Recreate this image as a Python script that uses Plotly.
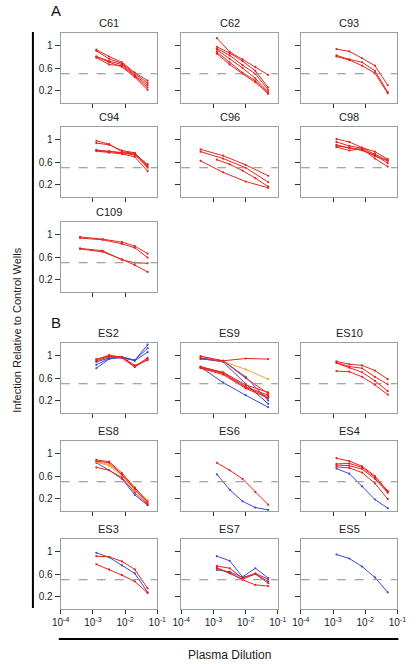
import plotly.graph_objects as go

# ---------------- data ----------------
X5 = [0.00128, 0.0032, 0.008, 0.02, 0.05]
X4 = [0.0004, 0.002, 0.01, 0.05]
X5B = [0.0004, 0.002, 0.008, 0.02, 0.05]

RED = "#e8231e"
BLUE = "#3a4ad4"
ORANGE = "#f2a52a"

C61 = [[0.92, 0.80, 0.70, 0.52, 0.38],
       [0.90, 0.76, 0.68, 0.50, 0.34],
       [0.80, 0.72, 0.66, 0.48, 0.30],
       [0.78, 0.66, 0.64, 0.46, 0.26],
       [0.80, 0.70, 0.62, 0.44, 0.22]]
C62 = [[1.12, 0.88, 0.75, 0.62, 0.48],
       [0.97, 0.86, 0.72, 0.55, 0.26],
       [0.94, 0.82, 0.65, 0.50, 0.22],
       [0.92, 0.76, 0.60, 0.42, 0.18],
       [0.88, 0.70, 0.52, 0.38, 0.15],
       [0.85, 0.66, 0.50, 0.35, 0.16]]
C93 = [[0.93, 0.89, 0.77, 0.64, 0.30],
       [0.82, 0.75, 0.70, 0.55, 0.18],
       [0.80, 0.74, 0.64, 0.51, 0.16]]
C94 = [[0.97, 0.91, 0.78, 0.75, 0.55],
       [0.93, 0.90, 0.80, 0.76, 0.52],
       [0.81, 0.79, 0.76, 0.74, 0.50],
       [0.80, 0.78, 0.76, 0.72, 0.56],
       [0.79, 0.76, 0.74, 0.69, 0.44]]
C96_4 = [[0.82, 0.71, 0.55, 0.36],
         [0.78, 0.66, 0.50, 0.25],
         [0.62, 0.42, 0.26, 0.15]]
C96_5 = [[0.64, 0.56, 0.45, 0.32, 0.17]]
C98 = [[1.00, 0.95, 0.85, 0.78, 0.65],
       [0.95, 0.88, 0.84, 0.74, 0.63],
       [0.90, 0.84, 0.82, 0.70, 0.62],
       [0.86, 0.80, 0.83, 0.66, 0.52],
       [0.88, 0.85, 0.80, 0.72, 0.58]]
C109 = [[0.95, 0.91, 0.86, 0.79, 0.66],
        [0.93, 0.90, 0.83, 0.76, 0.59],
        [0.75, 0.71, 0.55, 0.50, 0.49],
        [0.74, 0.69, 0.56, 0.46, 0.34]]

ES2_red = [[0.92, 1.00, 0.96, 0.80, 0.95],
           [0.93, 0.98, 0.97, 0.82, 0.91],
           [0.90, 0.97, 0.95, 0.79, 0.93]]
ES2_blue = [[0.77, 0.93, 0.97, 0.91, 1.18],
            [0.83, 0.94, 0.96, 0.90, 1.05],
            [0.88, 0.95, 0.95, 0.91, 1.12]]
ES9_red = [[0.93, 0.90, 0.94, 0.93],
           [0.98, 0.90, 0.60, 0.33],
           [0.79, 0.70, 0.48, 0.35],
           [0.80, 0.69, 0.45, 0.30],
           [0.78, 0.68, 0.44, 0.27],
           [0.77, 0.66, 0.42, 0.25]]
ES9_blue = [[0.95, 0.90, 0.62, 0.21],
            [0.94, 0.88, 0.50, 0.15],
            [0.79, 0.52, 0.30, 0.09]]
ES9_orange = [[0.98, 0.89, 0.75, 0.58]]
ES10 = [[0.89, 0.84, 0.82, 0.73, 0.58],
        [0.87, 0.80, 0.77, 0.62, 0.49],
        [0.86, 0.78, 0.70, 0.55, 0.37],
        [0.72, 0.71, 0.62, 0.48, 0.31]]
ES8_red = [[0.88, 0.85, 0.65, 0.40, 0.15],
           [0.86, 0.83, 0.62, 0.37, 0.12],
           [0.75, 0.70, 0.57, 0.31, 0.10]]
ES8_orange = [[0.85, 0.80, 0.63, 0.38, 0.18],
              [0.84, 0.78, 0.60, 0.35, 0.16]]
ES8_blue = [[0.83, 0.70, 0.55, 0.27, 0.09]]
ES6_red = [[0.83, 0.70, 0.55, 0.32, 0.10]]
ES6_blue = [[0.63, 0.36, 0.16, 0.05, 0.01]]
ES4_red = [[0.91, 0.86, 0.77, 0.60, 0.34],
           [0.81, 0.82, 0.75, 0.58, 0.32],
           [0.79, 0.78, 0.72, 0.55, 0.31],
           [0.76, 0.74, 0.66, 0.47, 0.20]]
ES4_blue = [[0.73, 0.64, 0.42, 0.19, 0.04]]
ES3_red = [[0.91, 0.90, 0.82, 0.68, 0.35],
           [0.77, 0.68, 0.58, 0.47, 0.27]]
ES3_blue = [[0.97, 0.89, 0.75, 0.61, 0.28]]
ES7_red = [[0.74, 0.70, 0.53, 0.61, 0.51],
           [0.70, 0.62, 0.50, 0.41, 0.39],
           [0.71, 0.61, 0.51, 0.60, 0.44]]
ES7_blue = [[0.91, 0.83, 0.55, 0.70, 0.53],
            [0.67, 0.64, 0.54, 0.60, 0.47]]
ES5_blue = [[0.94, 0.87, 0.73, 0.54, 0.28]]

THRESHOLD = 0.5
Y_TICKS = [0.2, 0.6, 1]
Y_TICKTEXT = ["0.2", "0.6", "1"]
X_TICKS = [1e-4, 1e-3, 1e-2, 1e-1]
X_TICKTEXT = ["10<sup>-4</sup>", "10<sup>-3</sup>", "10<sup>-2</sup>", "10<sup>-1</sup>"]

# (name, row, col, [(color, xs, list_of_series)])
panels = [
    ("C61", 0, 0, [(RED, X5, C61)]),
    ("C62", 0, 1, [(RED, X5, C62)]),
    ("C93", 0, 2, [(RED, X5, C93)]),
    ("C94", 1, 0, [(RED, X5, C94)]),
    ("C96", 1, 1, [(RED, X4, C96_4), (RED, X5, C96_5)]),
    ("C98", 1, 2, [(RED, X5, C98)]),
    ("C109", 2, 0, [(RED, X5B, C109)]),
    ("ES2", 3, 0, [(BLUE, X5, ES2_blue), (RED, X5, ES2_red)]),
    ("ES9", 3, 1, [(BLUE, X4, ES9_blue), (ORANGE, X4, ES9_orange), (RED, X4, ES9_red)]),
    ("ES10", 3, 2, [(RED, X5, ES10)]),
    ("ES8", 4, 0, [(BLUE, X5, ES8_blue), (ORANGE, X5, ES8_orange), (RED, X5, ES8_red)]),
    ("ES6", 4, 1, [(BLUE, X5, ES6_blue), (RED, X5, ES6_red)]),
    ("ES4", 4, 2, [(BLUE, X5, ES4_blue), (RED, X5, ES4_red)]),
    ("ES3", 5, 0, [(BLUE, X5, ES3_blue), (RED, X5, ES3_red)]),
    ("ES7", 5, 1, [(BLUE, X5, ES7_blue), (RED, X5, ES7_red)]),
    ("ES5", 5, 2, [(BLUE, X5, ES5_blue)]),
]

# ---------------- layout geometry (pixels) ----------------
W, H = 416, 664
COL_LEFT = [54, 180, 305]
ROW_TOP = [33, 127, 222, 343, 441, 539]
BOX_W, BOX_H = 101, 70
BOTTOM_ROWS = {5}

FONT = "Liberation Sans, Arial, sans-serif"
BORDER = "#97a3a3"

fig = go.Figure()
layout = dict(
    width=W, height=H, margin=dict(l=0, r=0, t=0, b=0),
    paper_bgcolor="white", plot_bgcolor="white", showlegend=False,
    font=dict(family=FONT, size=10, color="#222"),
)
annotations = []
shapes = []

for i, (name, r, c, groups) in enumerate(panels):
    idx = "" if i == 0 else str(i + 1)
    xa, ya = "x" + idx, "y" + idx
    l, t = COL_LEFT[c], ROW_TOP[r]
    xdom = [l / W, (l + BOX_W) / W]
    ydom = [1 - (t + BOX_H) / H, 1 - t / H]
    for color, xs, series in groups:
        for ys in series:
            fig.add_trace(go.Scatter(
                x=xs, y=ys, xaxis=xa, yaxis=ya, mode="lines+markers",
                line=dict(color=color, width=1),
                marker=dict(color=color, size=2.2),
                hoverinfo="skip"))
    show_x_labels = r in BOTTOM_ROWS
    xaxis = dict(
        domain=xdom, anchor=ya, type="log", range=[-4, -1],
        showticklabels=show_x_labels,
        ticks="outside", ticklen=4, tickcolor="#333", tickwidth=1,
        showline=True, linecolor=BORDER, linewidth=1, mirror=True,
        showgrid=False, zeroline=False, fixedrange=True,
        tickfont=dict(size=10, color="#222"),
    )
    if show_x_labels:
        xaxis.update(tickvals=X_TICKS, ticktext=X_TICKTEXT)
    else:
        xaxis.update(tickvals=X_TICKS[1:3])
    layout["xaxis" + idx] = xaxis
    yaxis = dict(
        domain=ydom, anchor=xa, range=[-0.01, 1.21],
        tickvals=Y_TICKS, showticklabels=(c == 0),
        ticks="outside", ticklen=5, tickcolor="#333", tickwidth=1,
        showline=True, linecolor=BORDER, linewidth=1, mirror=True,
        showgrid=False, zeroline=False, fixedrange=True,
        tickfont=dict(size=10, color="#222"),
    )
    if c == 0:
        yaxis.update(ticktext=Y_TICKTEXT)
    layout["yaxis" + idx] = yaxis
    shapes.append(dict(type="line", xref=xa + " domain", yref=ya,
                       x0=0, x1=1, y0=THRESHOLD, y1=THRESHOLD,
                       line=dict(color="#8a8a8a", width=1, dash="dash")))
    annotations.append(dict(text=name, xref="paper", yref="paper",
                            x=(l + BOX_W / 2) / W, y=1 - (t - 10) / H,
                            showarrow=False, font=dict(size=11, color="#222"),
                            xanchor="center", yanchor="middle"))

# panel letters
for letter, py in [("A", 11), ("B", 322)]:
    annotations.append(dict(text=letter, xref="paper", yref="paper",
                            x=42 / W, y=1 - py / H, showarrow=False,
                            xanchor="left", yanchor="middle",
                            font=dict(size=15, color="#111")))
# axis titles
annotations.append(dict(text="Infection Relative to Control Wells", xref="paper", yref="paper",
                        x=8 / W, y=1 - 330 / H, showarrow=False, textangle=-90,
                        xanchor="center", yanchor="middle",
                        font=dict(size=11, color="#222")))
annotations.append(dict(text="Plasma Dilution", xref="paper", yref="paper",
                        x=230 / W, y=1 - 655 / H, showarrow=False,
                        xanchor="center", yanchor="middle",
                        font=dict(size=12, color="#222")))
# bracket lines
shapes.append(dict(type="line", xref="paper", yref="paper",
                   x0=25 / W, x1=25 / W, y0=1 - 32 / H, y1=1 - 608 / H,
                   line=dict(color="black", width=2)))
shapes.append(dict(type="line", xref="paper", yref="paper",
                   x0=52 / W, x1=407 / W, y0=1 - 639 / H, y1=1 - 639 / H,
                   line=dict(color="black", width=2)))

layout["annotations"] = annotations
layout["shapes"] = shapes
fig.update_layout(**layout)
fig.write_html("out.html",
               config={"displayModeBar": False},
               post_script="document.body.style.margin='0';document.body.style.overflow='hidden';")
